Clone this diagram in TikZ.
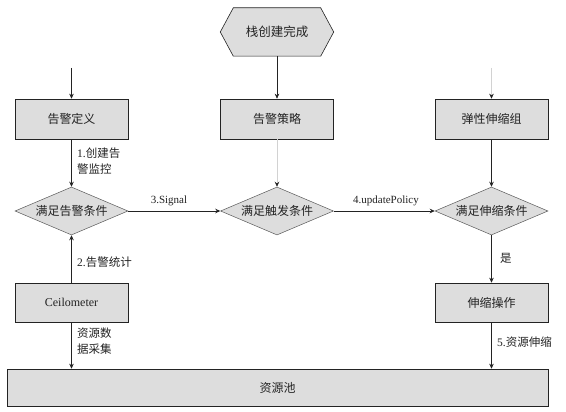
\documentclass[tikz,border=0pt]{standalone}
\usepackage{fontspec}
\setmainfont{Liberation Serif}
\newfontfamily\cjk{Noto Sans CJK SC}
\usetikzlibrary{shapes.geometric,arrows.meta,backgrounds}
\definecolor{boxfill}{RGB}{221,221,221}
\definecolor{edge}{RGB}{35,35,35}
\begin{document}
\begin{tikzpicture}[x=1pt,y=-1pt,
  every node/.style={font=\cjk\fontsize{12}{14}\selectfont, text=edge},
  box/.style={draw=edge, line width=0.6pt, fill=boxfill, minimum width=113pt, minimum height=40pt, inner sep=0pt},
  dia/.style={diamond, draw=gray!70!black, line width=0.5pt, fill=boxfill, aspect=2.35, minimum width=113pt, minimum height=48pt, inner sep=0pt},
  arr/.style={draw=edge, line width=0.6pt, -{Stealth[length=5pt,width=4.5pt]}},
  faint/.style={draw=gray!35, line width=0.6pt, -{Stealth[length=5pt,width=4.5pt,color=edge]}},
  lab/.style={font=\cjk\fontsize{11.5}{16}\selectfont, anchor=west, inner sep=0pt, align=left},
  latin/.style={font=\rmfamily\fontsize{11}{13}\selectfont, inner sep=0pt}]
\useasboundingbox (0,0) rectangle (566,412);

% start hexagon
\node[inner sep=0pt, minimum width=87pt, minimum height=48pt, font=\cjk\fontsize{12.5}{14}\selectfont] (start) at (277,32) {栈创建完成};
\begin{scope}[on background layer]
  \fill[white] (0,0) rectangle (566,412);
  \draw[fill=boxfill, draw=edge, line width=0.6pt]
    (start.north west) -- (start.north east) -- ([xshift=13pt]start.east)
    -- (start.south east) -- (start.south west) -- ([xshift=-13pt]start.west) -- cycle;
\end{scope}

% boxes
\node[box] (def) at (71.5,119) {告警定义};
\node[box] (pol) at (277,119) {告警策略};
\node[box] (asg) at (491.5,119) {弹性伸缩组};

% diamonds
\node[dia] (c1) at (71.5,211) {满足告警条件};
\node[dia] (c2) at (277,211) {满足触发条件};
\node[dia] (c3) at (491.5,211) {满足伸缩条件};

% lower boxes
\node[box, minimum height=39pt] (ceil) at (71.5,302.5) {\rmfamily\fontsize{12}{14}\selectfont Ceilometer};
\node[box, minimum height=39pt] (op) at (491.5,302.5) {伸缩操作};
\node[box, minimum width=541pt, minimum height=37pt] (pool) at (277.5,387.5) {资源池};

% free starts
\coordinate (in1) at (71.5,68);
\coordinate (in3) at (491.5,68);

% connectors
\draw[arr] (in1) -- (def);
\draw[faint] (in3) -- (asg);
\draw[arr] (start) -- (pol);
\draw[arr] (def) -- (c1);
\draw[faint] (pol) -- (c2);
\draw[arr] (asg) -- (c3);
\draw[arr] (c1) -- (c2);
\draw[arr] (c2) -- (c3);
\draw[arr] (ceil) -- (c1);
\draw[arr] (c3) -- (op);
\draw[arr] (ceil.south) -- (ceil.south |- pool.north);
\draw[arr] (op.south) -- (op.south |- pool.north);

% labels
\node[lab] (l1) at (77,161) {{\rmfamily 1.}创建告\\警监控};
\node[latin] (l3) at (169,201) {3.Signal};
\node[latin] (l4) at (386,201) {4.updatePolicy};
\node[lab] (l2) at (77,262) {{\rmfamily 2.}告警统计};
\node[lab] (ly) at (500,258) {是};
\node[lab] (ld) at (77,341.5) {资源数\\据采集};
\node[lab] (l5) at (497,342) {{\rmfamily 5.}资源伸缩};
\end{tikzpicture}
\end{document}
